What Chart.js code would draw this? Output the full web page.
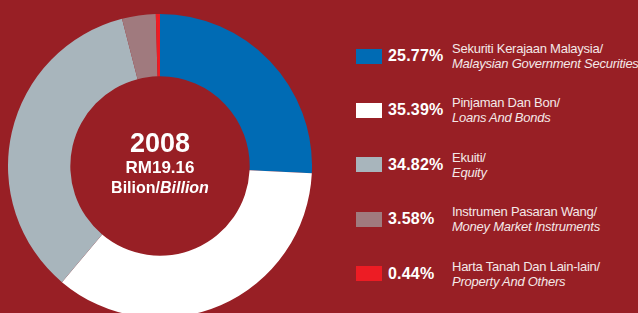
<!DOCTYPE html>
<html>
<head>
<meta charset="utf-8">
<script src="https://cdn.jsdelivr.net/npm/chart.js@4"></script>
<style>
    body { margin: 0; width: 638px; height: 313px; overflow: hidden; background: #981f25; position: relative;
           font-family: "Liberation Sans", Arial, sans-serif; color: #fff; }
    #chartBox { position: absolute; left: 8px; top: 14px; width: 304px; height: 304px; }
    .row { position: absolute; left: 356px; display: flex; align-items: center; height: 30px; white-space: nowrap; }
    .sw { width: 26px; height: 15px; margin-right: 6px; }
    .pct { font-weight: bold; font-size: 16px; width: 64px; letter-spacing: 0.2px; }
    .lbl { font-size: 13px; line-height: 15px; color: #f4e8e8; letter-spacing: -0.25px; }
    .lbl i { display: block; }
</style>
</head>
<body>
<div id="chartBox"><canvas id="pie"></canvas></div>
<div id="legend"></div>
<script>
// Dados do gráfico
const categoriesMs = ['Sekuriti Kerajaan Malaysia/', 'Pinjaman Dan Bon/', 'Ekuiti/', 'Instrumen Pasaran Wang/', 'Harta Tanah Dan Lain-lain/'];
const categoriesEn = ['Malaysian Government Securities', 'Loans And Bonds', 'Equity', 'Money Market Instruments', 'Property And Others'];
const shares = [25.77, 35.39, 34.82, 3.58, 0.44];
const colors = ['#006bb4', '#ffffff', '#a8b5bc', '#a07a7e', '#ed1c24'];

const centerYear = '2008';
const centerAmount = 'RM19.16';
const centerUnitMs = 'Bilion/';
const centerUnitEn = 'Billion';

// Legenda em HTML
const legend = document.getElementById('legend');
legend.innerHTML = categoriesMs.map((c, i) => `
    <div class="row" style="top:${41 + i * 54.4}px">
        <div class="sw" style="background:${colors[i]}"></div>
        <div class="pct">${shares[i].toFixed(2)}%</div>
        <div class="lbl">${c}<i>${categoriesEn[i]}</i></div>
    </div>
`).join('');

// Texto no centro do donut
const centerText = {
    id: 'centerText',
    afterDraw(chart) {
        const arc = chart.getDatasetMeta(0).data[0];
        const ctx = chart.ctx;
        const x = arc.x, y = arc.y;
        ctx.save();
        ctx.fillStyle = '#fff';
        ctx.textAlign = 'center';
        ctx.textBaseline = 'alphabetic';
        ctx.font = 'bold 27px "Liberation Sans", Arial';
        ctx.fillText(centerYear, x, y - 14);
        ctx.font = 'bold 17px "Liberation Sans", Arial';
        ctx.fillText(centerAmount, x, y + 7);
        const f1 = 'bold 16px "Liberation Sans", Arial';
        const f2 = 'italic bold 16px "Liberation Sans", Arial';
        ctx.font = f1;
        const w1 = ctx.measureText(centerUnitMs).width;
        ctx.font = f2;
        const w2 = ctx.measureText(centerUnitEn).width;
        ctx.textAlign = 'left';
        const left = x - (w1 + w2) / 2;
        ctx.font = f1;
        ctx.fillText(centerUnitMs, left, y + 27);
        ctx.font = f2;
        ctx.fillText(centerUnitEn, left + w1, y + 27);
        ctx.restore();
    }
};

new Chart(document.getElementById('pie'), {
    type: 'doughnut',
    data: {
        labels: categoriesEn,
        datasets: [{
            data: shares,
            backgroundColor: colors,
            borderWidth: 0
        }]
    },
    options: {
        responsive: true,
        maintainAspectRatio: false,
        animation: false,
        cutout: '59%',
        layout: { padding: 0 },
        plugins: {
            legend: { display: false },
            tooltip: { enabled: false }
        }
    },
    plugins: [centerText]
});
</script>
</body>
</html>
